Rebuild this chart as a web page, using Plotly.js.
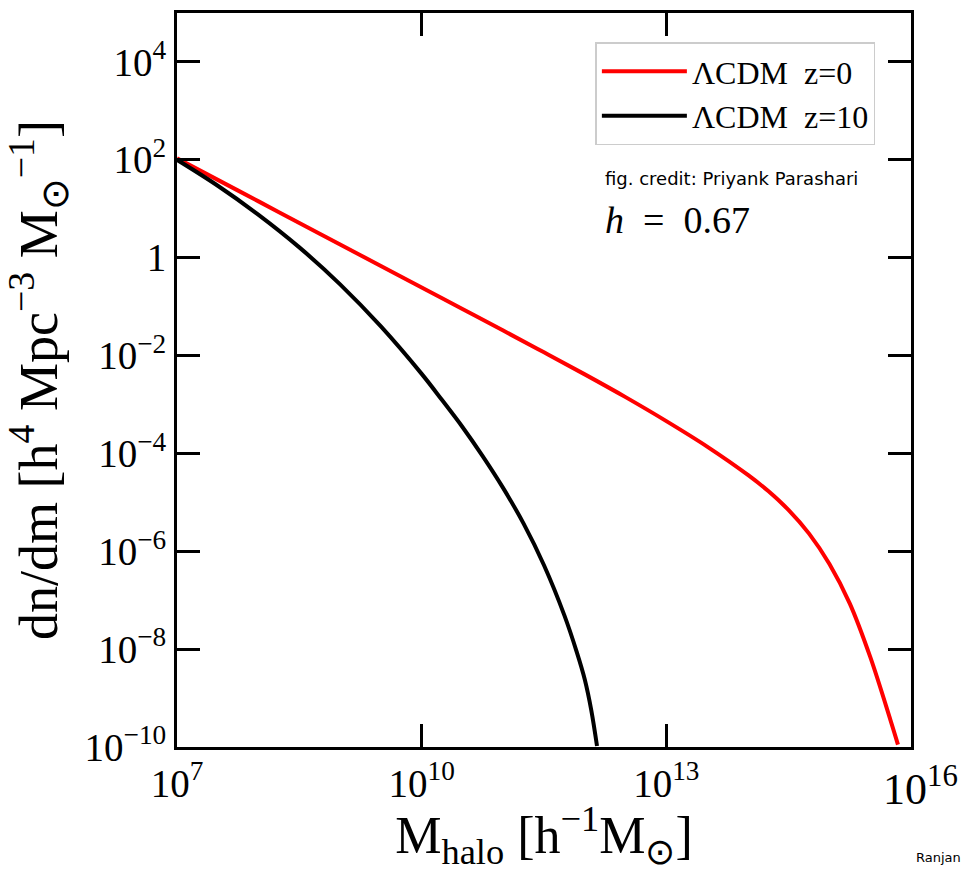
<!DOCTYPE html>
<html>
<head>
<meta charset="utf-8">
<script src="https://cdn.plot.ly/plotly-3.0.1.min.js"></script>
<style>
  html, body { margin: 0; padding: 0; background: #ffffff; }
  #chart { width: 965px; height: 872px; }
</style>
</head>
<body>
<div id="chart"></div>
<script>
// ---- data (log10 values) ----
// ΛCDM z=0 (red)
const logMassZ0 = [7.0, 7.5, 8.0, 8.5, 9.0, 9.5, 10.0, 10.5, 11.0, 11.5, 12.0, 12.5, 13.0, 13.5, 14.0, 14.25, 14.5, 14.75, 15.0, 15.25, 15.5, 15.75, 15.84];
const logDndmZ0 = [2.03, 1.59, 1.15, 0.71, 0.27, -0.17, -0.61, -1.05, -1.49, -1.935, -2.385, -2.85, -3.34, -3.86, -4.44, -4.77, -5.16, -5.64, -6.26, -7.07, -8.16, -9.46, -9.95];
// ΛCDM z=10 (black)
const logMassZ10 = [7.0, 7.5, 8.0, 8.5, 9.0, 9.5, 10.0, 10.25, 10.5, 10.75, 11.0, 11.25, 11.5, 11.75, 11.9, 12.0, 12.08, 12.15];
const logDndmZ10 = [2.0, 1.47, 0.875, 0.21, -0.545, -1.405, -2.375, -2.91, -3.46, -4.06, -4.71, -5.435, -6.285, -7.31, -8.05, -8.62, -9.25, -9.98];

const seriesNames = ['ΛCDM  z=0', 'ΛCDM  z=10'];
const seriesColors = ['#ff0000', '#000000'];

const xTickVals = [1e7, 1e10, 1e13, 1e16];
const xTickText = ['10<sup>7</sup>', '10<sup>10</sup>', '10<sup>13</sup>', ' '];
const yTickVals = [1e-10, 1e-8, 1e-6, 1e-4, 1e-2, 1, 1e2, 1e4];
const yTickText = ['10<sup>−10</sup>', '10<sup>−8</sup>', '10<sup>−6</sup>', '10<sup>−4</sup>', '10<sup>−2</sup>', '1', '10<sup>2</sup>', '10<sup>4</sup>'];

const pow10 = a => a.map(v => Math.pow(10, v));

const serif = 'Liberation Serif';

const traces = [
  {
    x: pow10(logMassZ0), y: pow10(logDndmZ0),
    type: 'scatter', mode: 'lines', name: seriesNames[0],
    line: { color: seriesColors[0], width: 4, shape: 'spline', smoothing: 1 }
  },
  {
    x: pow10(logMassZ10), y: pow10(logDndmZ10),
    type: 'scatter', mode: 'lines', name: seriesNames[1],
    line: { color: seriesColors[1], width: 4, shape: 'spline', smoothing: 1 }
  }
];

const axisCommon = {
  type: 'log',
  showgrid: false, zeroline: false,
  showline: true, linecolor: '#000', linewidth: 3, mirror: 'ticks',
  ticks: 'inside', ticklen: 23, tickwidth: 3, tickcolor: '#000',
  tickfont: { family: serif, size: 39, color: '#000' }
};

const layout = {
  width: 965, height: 872,
  paper_bgcolor: '#fff', plot_bgcolor: '#fff',
  margin: { l: 177, r: 54, t: 13, b: 125 },
  showlegend: true,
  legend: {
    x: 0.57, y: 0.96, xanchor: 'left', yanchor: 'top',
    bgcolor: 'rgba(255,255,255,0.9)', bordercolor: '#cccccc', borderwidth: 1.5,
    font: { family: serif, size: 32, color: '#000' },
    itemwidth: 85,
    tracegroupgap: 4
  },
  xaxis: Object.assign({}, axisCommon, {
    range: [7, 16],
    tickvals: xTickVals, ticktext: xTickText,
    title: { text: 'M<sub>halo</sub> [h<sup>−1</sup>M<sub>⊙</sub>]', standoff: 8,
             font: { family: serif, size: 52, color: '#000' } }
  }),
  yaxis: Object.assign({}, axisCommon, {
    range: [-10, 5],
    tickvals: yTickVals, ticktext: yTickText,
    title: { text: 'dn/dm [h<sup>4</sup> Mpc<sup>−3</sup> M<sub>⊙</sub><sup>−1</sup>]', standoff: 38,
             font: { family: serif, size: 54, color: '#000' } }
  }),
  annotations: [
    { xref: 'paper', yref: 'paper', x: 1.0, y: 0, xanchor: 'center', yanchor: 'top', xshift: 9, yshift: -10,
      text: '10<sup>16</sup>', showarrow: false, font: { family: serif, size: 44, color: '#000' } },
    { xref: 'paper', yref: 'paper', x: 0.58, y: 0.775, xanchor: 'left', yanchor: 'middle',
      text: 'fig. credit: Priyank Parashari', showarrow: false, font: { family: 'DejaVu Sans', size: 18, color: '#000' } },
    { xref: 'paper', yref: 'paper', x: 0.58, y: 0.718, xanchor: 'left', yanchor: 'middle',
      text: '<i>h</i>\u00a0\u00a0=\u00a0\u00a00.67', showarrow: false, font: { family: serif, size: 38, color: '#000' } },
    { xref: 'paper', yref: 'paper', x: 1.0708, y: -0.151, xanchor: 'right', yanchor: 'middle',
      text: 'Ranjan', showarrow: false, font: { family: 'DejaVu Sans', size: 13, color: '#000' } }
  ]
};

Plotly.newPlot('chart', traces, layout, { displayModeBar: false, staticPlot: true });
</script>
</body>
</html>
